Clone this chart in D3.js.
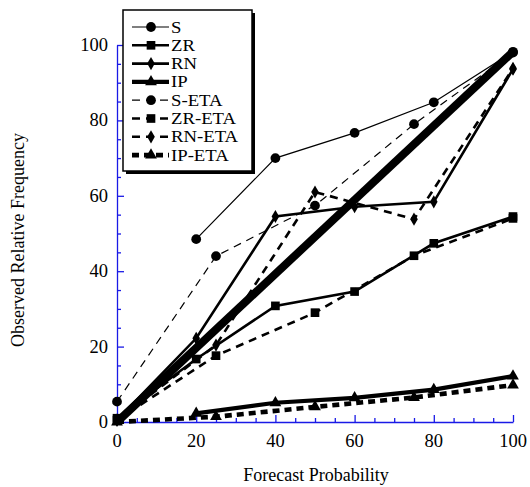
<!DOCTYPE html>
<html><head><meta charset="utf-8">
<script src="https://cdn.jsdelivr.net/npm/d3@7"></script>
<style>body{margin:0;background:#fff}svg{display:block}</style>
</head><body>
<svg id="c" width="530" height="487"></svg>
<script>
// ---- data ----
const probs = [0, 20, 40, 60, 80, 100];
const probsEta = [0, 25, 50, 75, 100];
const S = [null, 48.5, 70, 76.7, 84.8, 98.2];
const ZR = [1, 16.7, 30.8, 34.6, 47.4, 54.5];
const RN = [0.5, 22.2, 54.5, 57.1, 58.4, 93.6];
const IP = [null, 2.3, 5.1, 6.4, 8.6, 12.2];
const S_ETA = [5.4, 44, 57.4, 79, 98];
const ZR_ETA = [0.5, 17.6, 29, 44.1, 54];
const RN_ETA = [0.5, 20.4, 61, 53.8, 93.8];
const IP_ETA = [0, 1.4, 4, 6.5, 9.8];
const diagX = [0, 100];
const diagY = [0, 98.2];
const xTicks = [0, 20, 40, 60, 80, 100];
const yTicks = [0, 20, 40, 60, 80, 100];
const labels = ["S", "ZR", "RN", "IP", "S-ETA", "ZR-ETA", "RN-ETA", "IP-ETA"];

const series = [
  {xs: probs, ys: S, w: 1.2, dash: null, sym: "circle"},
  {xs: probs, ys: ZR, w: 2.6, dash: null, sym: "square"},
  {xs: probs, ys: RN, w: 2.6, dash: null, sym: "diamond"},
  {xs: probs, ys: IP, w: 4.2, dash: null, sym: "triangle"},
  {xs: probsEta, ys: S_ETA, w: 1.2, dash: "8,6", sym: "circle"},
  {xs: probsEta, ys: ZR_ETA, w: 2.6, dash: "8,6", sym: "square"},
  {xs: probsEta, ys: RN_ETA, w: 2.6, dash: "8,6", sym: "diamond"},
  {xs: probsEta, ys: IP_ETA, w: 4.6, dash: "7,5", sym: "triangle"}
];

const svg = d3.select("#c");
const x = d3.scaleLinear().domain([0, 100]).range([117, 513]);
const y = d3.scaleLinear().domain([0, 100]).range([422, 45]);
const axisCol = "#1a1ae6";
const font = "'Liberation Serif','Times New Roman',serif";

// axes
const minor = d3.range(0, 101, 5);
const xa = svg.append("g").attr("transform", "translate(0,422)")
  .call(d3.axisBottom(x).tickValues(minor).tickSizeInner(-4).tickSizeOuter(0).tickFormat(""));
const ya = svg.append("g").attr("transform", "translate(117,0)")
  .call(d3.axisLeft(y).tickValues(minor).tickSizeInner(-4).tickSizeOuter(0).tickFormat(""));
xa.selectAll(".tick line").filter(d => d % 20 === 0).attr("y2", -7);
ya.selectAll(".tick line").filter(d => d % 20 === 0).attr("x2", 7);
[xa, ya].forEach(g => { g.selectAll("line,path").attr("stroke", axisCol).attr("stroke-width", 1.3); });

svg.append("g").selectAll("text").data(xTicks).join("text")
  .attr("x", d => x(d)).attr("y", 447).attr("text-anchor", "middle")
  .attr("font-family", font).attr("font-size", 18.5).text(d => d);
svg.append("g").selectAll("text").data(yTicks).join("text")
  .attr("x", 108).attr("y", d => y(d) + 6).attr("text-anchor", "end")
  .attr("font-family", font).attr("font-size", 18.5).text(d => d);

svg.append("text").attr("x", 316).attr("y", 481).attr("text-anchor", "middle")
  .attr("font-family", font).attr("font-size", 18).text("Forecast Probability");
svg.append("text").attr("transform", "translate(24,240) rotate(-90)").attr("text-anchor", "middle")
  .attr("font-family", font).attr("font-size", 18).text("Observed Relative Frequency");

// diagonal reference
svg.append("line").attr("x1", x(diagX[0])).attr("y1", y(diagY[0]))
  .attr("x2", x(diagX[1])).attr("y2", y(diagY[1]))
  .attr("stroke", "#000").attr("stroke-width", 8);

const symMap = {
  circle: d3.symbol().type(d3.symbolCircle).size(75),
  square: d3.symbol().type(d3.symbolSquare).size(75),
  diamond: d3.symbol().type(d3.symbolDiamond).size(50),
  triangle: d3.symbol().type(d3.symbolTriangle).size(60)
};

const line = d3.line().defined(d => d[1] != null).x(d => x(d[0])).y(d => y(d[1]));
series.forEach(s => {
  const pts = s.xs.map((v, i) => [v, s.ys[i]]);
  svg.append("path").attr("d", line(pts)).attr("fill", "none").attr("stroke", "#000")
    .attr("stroke-width", s.w).attr("stroke-dasharray", s.dash);
  svg.append("g").selectAll("path").data(pts.filter(d => d[1] != null)).join("path")
    .attr("d", symMap[s.sym]()).attr("transform", d => `translate(${x(d[0])},${y(d[1])})`)
    .attr("fill", "#000");
});

// legend
const lg = svg.append("g");
lg.append("rect").attr("x", 126).attr("y", 13).attr("width", 129).attr("height", 161).attr("fill", "#000");
lg.append("rect").attr("x", 123).attr("y", 10).attr("width", 129).attr("height", 161)
  .attr("fill", "#fff").attr("stroke", "#000").attr("stroke-width", 1.5);
series.forEach((s, i) => {
  const yy = 27 + i * 18.3;
  lg.append("line").attr("x1", 132).attr("x2", 169).attr("y1", yy).attr("y2", yy)
    .attr("stroke", "#000").attr("stroke-width", s.w).attr("stroke-dasharray", s.dash);
  lg.append("path").attr("d", symMap[s.sym]()).attr("transform", `translate(151,${yy})`).attr("fill", "#000");
  lg.append("text").attr("transform", `translate(171,${yy + 5.5}) scale(1.17,1)`)
    .attr("font-family", font).attr("font-size", 16).text(labels[i]);
});
</script>
</body></html>
